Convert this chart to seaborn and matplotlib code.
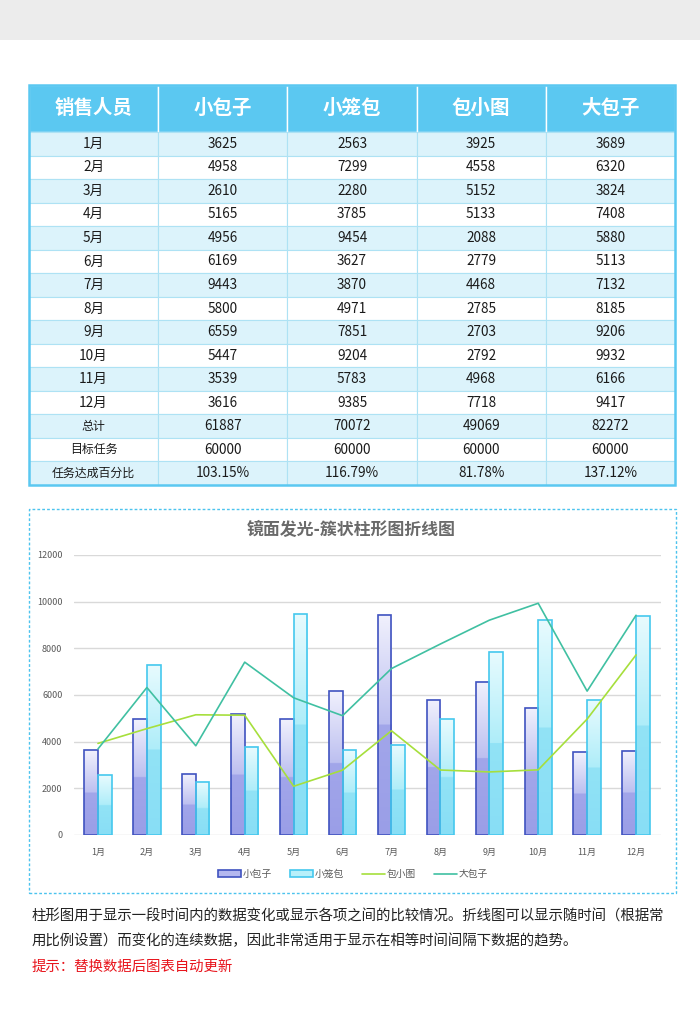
import numpy as np
import pandas as pd
import matplotlib
matplotlib.use("Agg")
import matplotlib.pyplot as plt
from matplotlib.patches import Rectangle, Patch
from matplotlib.lines import Line2D
from matplotlib.colors import to_rgb
from decimal import Decimal, ROUND_HALF_UP
import seaborn as sns

# ---------------- data ----------------
months = ["1月", "2月", "3月", "4月", "5月", "6月", "7月", "8月", "9月", "10月", "11月", "12月"]
series_names = ["小包子", "小笼包", "包小图", "大包子"]
xiaobaozi = [3625, 4958, 2610, 5165, 4956, 6169, 9443, 5800, 6559, 5447, 3539, 3616]
xiaolongbao = [2563, 7299, 2280, 3785, 9454, 3627, 3870, 4971, 7851, 9204, 5783, 9385]
baoxiaotu = [3925, 4558, 5152, 5133, 2088, 2779, 4468, 2785, 2703, 2792, 4968, 7718]
dabaozi = [3689, 6320, 3824, 7408, 5880, 5113, 7132, 8185, 9206, 9932, 6166, 9417]
target = [60000, 60000, 60000, 60000]
header = ["销售人员", "小包子", "小笼包", "包小图", "大包子"]
row_extra = ["总计", "目标任务", "任务达成百分比"]
yticks = [0, 2000, 4000, 6000, 8000, 10000, 12000]
chart_title = "镜面发光-簇状柱形图折线图"
note_lines = ["柱形图用于显示一段时间内的数据变化或显示各项之间的比较情况。折线图可以显示随时间（根据常",
              "用比例设置）而变化的连续数据，因此非常适用于显示在相等时间间隔下数据的趋势。"]
tip = "提示：替换数据后图表自动更新"

sns.set_theme(style="white")
plt.rcParams['font.family'] = ['Noto Sans CJK SC', 'DejaVu Sans']

W, H = 700, 1030
fig = plt.figure(figsize=(W / 100, H / 100), dpi=100)
fig.patch.set_facecolor("white")

def fx(px):
    return px / W

def fy(py):
    return 1 - py / H

# gray top band
fig.patches.append(Rectangle((0, fy(40)), 1, 40 / H, transform=fig.transFigure,
                             facecolor="#ececec", edgecolor="none", zorder=0))

# ---------------- table ----------------
all_series = [xiaobaozi, xiaolongbao, baoxiaotu, dabaozi]
rows = []
for i, m in enumerate(months):
    rows.append([m] + [str(s[i]) for s in all_series])
totals = [sum(s) for s in all_series]

def pct(t, g):
    v = (Decimal(t) * 100 / Decimal(g)).quantize(Decimal("0.01"), rounding=ROUND_HALF_UP)
    return f"{v}%"

rows.append([row_extra[0]] + [str(t) for t in totals])
rows.append([row_extra[1]] + [str(t) for t in target])
rows.append([row_extra[2]] + [pct(t, g) for t, g in zip(totals, target)])

tl, tt, tr, tb = 29, 85, 675, 485
ax_t = fig.add_axes([fx(tl), fy(tb), fx(tr - tl), (tb - tt) / H])
ax_t.axis("off")
tbl = ax_t.table(cellText=rows, colLabels=header, cellLoc="center", bbox=[0, 0, 1, 1])
tbl.auto_set_font_size(False)
for (r, c), cell in tbl.get_celld().items():
    txt = cell.get_text()
    if r == 0:
        cell.set_height(2.0)
        cell.set_facecolor("#5bc8f1")
        cell.set_edgecolor("white")
        cell.set_linewidth(1.0)
        txt.set_color("white")
        txt.set_fontsize(14)
        txt.set_fontweight("bold")
    else:
        cell.set_height(1.0)
        cell.set_facecolor("#dcf3fb" if r % 2 == 1 else "white")
        cell.set_edgecolor("#aee2f4")
        cell.set_linewidth(0.8)
        txt.set_color("#1a1a1a")
        s = txt.get_text()
        if any(ch.isdigit() for ch in s):
            txt.set_fontsize(9.8)
        else:
            txt.set_fontsize(8.6)
ax_t.add_patch(Rectangle((0, 0), 1, 1, transform=ax_t.transAxes, fill=False,
                         edgecolor="#5bc8f1", linewidth=1.8, zorder=10, clip_on=False))

# ---------------- chart box ----------------
fig.patches.append(Rectangle((fx(29), fy(893)), fx(676 - 29), (893 - 509) / H,
                             transform=fig.transFigure, fill=False, edgecolor="#4cc3ee",
                             linestyle=(0, (2, 1.5)), linewidth=1.0, zorder=1))
fig.text(fx(351), fy(530), chart_title, ha="center", va="center", fontsize=12.2,
         color="#6a6a6a", fontweight="bold")

ax = fig.add_axes([fx(73.5), fy(835), fx(660.5 - 73.5), (835 - 555) / H])
df = pd.DataFrame({
    "month": months * 2,
    "series": [series_names[0]] * 12 + [series_names[1]] * 12,
    "value": xiaobaozi + xiaolongbao,
})
bar_edges = ["#4053c0", "#45c8ee"]
sns.barplot(data=df, x="month", y="value", hue="series", order=months,
            hue_order=series_names[:2], palette=["#b4b8ef", "#a9ecf8"],
            width=0.56, gap=0, ax=ax, legend=False, saturation=1)

grads = [
    ("#f1f1fd", "#bcbff0", "#a2a6ea", "#9a9ee7"),
    ("#e8fbfe", "#aeedf9", "#92e3f6", "#88def5"),
]

def make_grad(cols, n=200):
    c0, c1, c2, c3 = [np.array(to_rgb(c)) for c in cols]
    t = np.linspace(0, 1, n)
    arr = np.zeros((n, 1, 3))
    for i, v in enumerate(t):
        if v < 0.5:
            a = v / 0.5
            arr[i, 0] = c0 * (1 - a) + c1 * a
        else:
            a = (v - 0.5) / 0.5
            arr[i, 0] = c2 * (1 - a) + c3 * a
    return arr

for k, cont in enumerate(ax.containers[:2]):
    g = make_grad(grads[k])
    for bar in cont:
        x0, w, h = bar.get_x(), bar.get_width(), bar.get_height()
        ax.imshow(g, extent=(x0, x0 + w, 0, h), origin="upper", aspect="auto",
                  zorder=1.5, interpolation="bilinear")
        bar.set_facecolor("none")
        bar.set_edgecolor(bar_edges[k])
        bar.set_linewidth(1.2)
        bar.set_zorder(2)

xpos = np.arange(len(months))
line_cols = ["#a6df3c", "#40c0a2"]
sns.lineplot(x=xpos, y=baoxiaotu, ax=ax, color=line_cols[0], linewidth=1.2, zorder=3)
sns.lineplot(x=xpos, y=dabaozi, ax=ax, color=line_cols[1], linewidth=1.2, zorder=3)

ax.set_xlim(-0.5, len(months) - 0.5)
ax.set_ylim(0, 12000)
ax.set_yticks(yticks)
ax.set_yticklabels([str(v) for v in yticks])
ax.set_xticks(xpos)
ax.set_xticklabels(months)
ax.set_xlabel("")
ax.set_ylabel("")
for s in ax.spines.values():
    s.set_visible(False)
ax.grid(axis="y", color="#d9d9d9", linewidth=1.0)
ax.set_axisbelow(True)
ax.tick_params(axis="both", length=0, labelsize=6.5, labelcolor="#595959")
ax.tick_params(axis="y", pad=8)
ax.tick_params(axis="x", pad=9)
ax.patch.set_alpha(0)

handles = [
    Patch(facecolor="#b4b8ef", edgecolor=bar_edges[0], linewidth=1.2),
    Patch(facecolor="#b8f0fa", edgecolor=bar_edges[1], linewidth=1.2),
    Line2D([0], [0], color=line_cols[0], linewidth=1.2),
    Line2D([0], [0], color=line_cols[1], linewidth=1.2),
]
leg = fig.legend(handles, series_names, loc="center", bbox_to_anchor=(fx(353), fy(874)),
                 ncol=4, frameon=False, fontsize=7, handlelength=2.3, handleheight=0.6,
                 handletextpad=0.2, columnspacing=1.9)
for t in leg.get_texts():
    t.set_color("#595959")

# ---------------- notes ----------------
fig.text(fx(32), fy(917), note_lines[0], ha="left", va="center", fontsize=10.4, color="#222222")
fig.text(fx(32), fy(941), note_lines[1], ha="left", va="center", fontsize=10.4, color="#222222")
fig.text(fx(32), fy(967), tip, ha="left", va="center", fontsize=10.4, color="#e8141c")

fig.savefig("out.png", dpi=100)
